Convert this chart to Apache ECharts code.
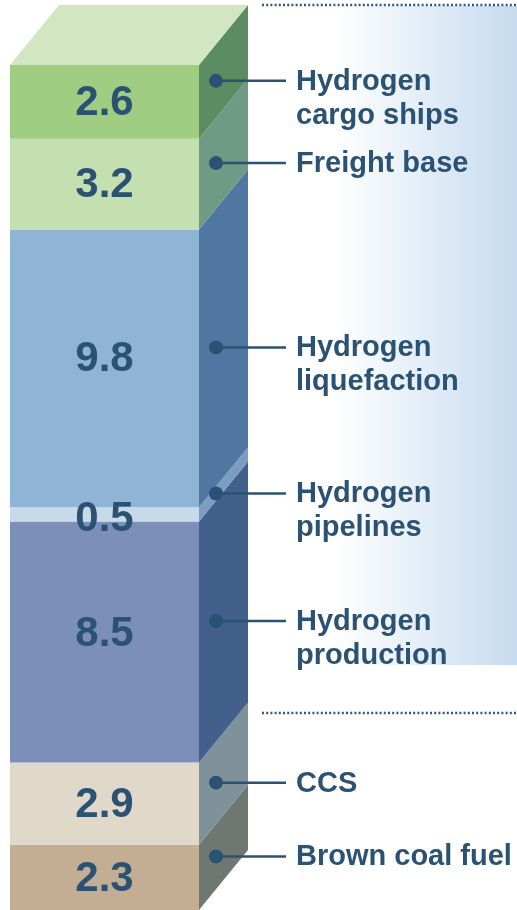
<!DOCTYPE html>
<html>
<head>
<meta charset="utf-8">
<script src="https://cdn.jsdelivr.net/npm/echarts@6/dist/echarts.min.js"></script>
<style>
  html, body { margin: 0; padding: 0; background: #fff; }
  #main { width: 517px; height: 910px; }
</style>
</head>
<body>
<div id="main"></div>
<script>
var myChart = echarts.init(document.getElementById('main'));

// segments, bottom to top
var names = ['Brown coal fuel', 'CCS', 'Hydrogen\nproduction', 'Hydrogen\npipelines',
             'Hydrogen\nliquefaction', 'Freight base', 'Hydrogen\ncargo ships'];
var values = [2.3, 2.9, 8.5, 0.5, 9.8, 3.2, 2.6];

// colours per segment
var frontColors = ['#c4ae93', '#e0d8c9', '#7b8fb8', '#c8d9e9', '#8fb4d5', '#c5e0b0', '#a0cd81'];
var sideColors = ['#6f7771', '#7f9199', '#435f8b', '#7b9dbf', '#4f77a1', '#6f9a86', '#5b8c62'];
var topColor = '#d2e6c2';
var textColor = '#2b5273';

var DX = 49, DY = 60;   // depth of the box

var total = 0;
var segData = [];
for (var i = 0; i < values.length; i++) {
    segData.push([i, total, total + values[i], values[i]]);
    total += values[i];
}

function renderItem(params, api) {
    var idx = api.value(0);
    var start = api.value(1), end = api.value(2), val = api.value(3);
    var pb = api.coord([0, start]);
    var pt = api.coord([1, end]);
    var x0 = pb[0], x1 = pt[0], yb = pb[1], yt = pt[1];
    var children = [];
    // front
    children.push({
        type: 'rect',
        shape: { x: x0, y: yt, width: x1 - x0, height: yb - yt },
        style: { fill: frontColors[idx] }
    });
    // side
    children.push({
        type: 'polygon',
        shape: { points: [[x1, yb], [x1, yt], [x1 + DX, yt - DY], [x1 + DX, yb - DY]] },
        style: { fill: sideColors[idx] }
    });
    // top face on the last block
    if (idx === values.length - 1) {
        children.push({
            type: 'polygon',
            shape: { points: [[x0, yt], [x1, yt], [x1 + DX, yt - DY], [x0 + DX, yt - DY]] },
            style: { fill: topColor }
        });
    }
    var mid = (yt + yb) / 2;
    // value, nudged up a little on tall blocks
    children.push({
        type: 'text',
        z2: 10,
        style: {
            x: (x0 + x1) / 2, y: mid + 6 - 0.055 * (yb - yt),
            text: val.toFixed(1),
            fill: textColor,
            font: 'bold 42px "Liberation Sans", Arial, sans-serif',
            align: 'center', verticalAlign: 'middle'
        }
    });
    // callout
    var dotX = x1 + 17, dotY = mid - 21;
    children.push({
        type: 'line',
        z2: 10,
        shape: { x1: dotX, y1: dotY, x2: 286, y2: dotY },
        style: { stroke: textColor, lineWidth: 2.5 }
    });
    children.push({
        type: 'circle',
        z2: 11,
        shape: { cx: dotX, cy: dotY, r: 7 },
        style: { fill: textColor }
    });
    children.push({
        type: 'text',
        z2: 10,
        style: {
            x: 296, y: dotY + 1 - 17,
            text: names[idx],
            fill: textColor,
            font: 'bold 29px "Liberation Sans", Arial, sans-serif',
            lineHeight: 34,
            align: 'left', verticalAlign: 'top'
        }
    });
    return { type: 'group', children: children };
}

option = {
    backgroundColor: '#fff',
    animation: false,
    grid: { left: 10, right: 318, top: 65, bottom: 0 },
    xAxis: { type: 'value', min: 0, max: 1, show: false },
    yAxis: { type: 'value', min: 0, max: total, show: false },
    graphic: [
        {
            type: 'rect', z: -10,
            shape: { x: 262, y: 6, width: 255, height: 659 },
            style: {
                fill: new echarts.graphic.LinearGradient(0, 0, 1, 0, [
                    { offset: 0, color: '#ffffff' },
                    { offset: 0.28, color: '#ffffff' },
                    { offset: 1, color: '#c6dbef' }
                ])
            }
        },
        {
            type: 'line', z: 5,
            shape: { x1: 262, y1: 5, x2: 517, y2: 5 },
            style: { stroke: '#2e5a86', lineWidth: 2.5, lineDash: [2, 2.2] }
        },
        {
            type: 'line', z: 5,
            shape: { x1: 262, y1: 713, x2: 517, y2: 713 },
            style: { stroke: '#2e5a86', lineWidth: 2.5, lineDash: [2, 2.2] }
        }
    ],
    series: [{
        type: 'custom',
        renderItem: renderItem,
        data: segData,
        encode: { x: 0, y: [1, 2] },
        clip: false
    }]
};
myChart.setOption(option);
</script>
</body>
</html>
